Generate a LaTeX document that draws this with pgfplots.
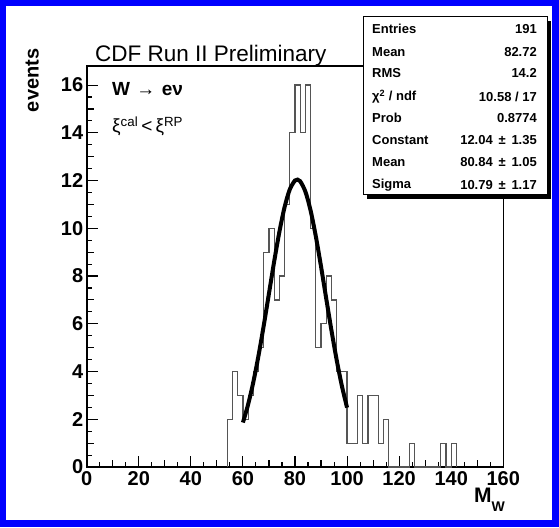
\documentclass[border=0pt]{standalone}
\usepackage{fontspec}
\setmainfont{Liberation Sans}
\usepackage{pgfplots}
\usepackage{pgfplotstable}
\pgfplotsset{compat=1.18}
\definecolor{rootblue}{RGB}{0,0,255}
\definecolor{histgray}{RGB}{85,85,85}

\pgfplotstableread{
x y
54 0
54 2
56 4
58 3
60 2
62 3
64 4
66 5
68 9
70 10
72 7
74 8
76 11
78 14
80 16
82 14
84 16
86 10
88 5
90 6
92 8
94 7
96 4
98 4
100 1
102 1
104 3
106 1
108 3
110 3
112 1
114 2
116 0
124 1
126 0
136 1
138 0
140 1
142 0
}\histdata

\begin{document}
\begin{tikzpicture}[x=1pt,y=1pt]
\fill[rootblue] (0,0) rectangle (559,527);
\fill[white] (6,7) rectangle (552,521);
\begin{axis}[
  at={(86.7pt,60pt)}, anchor=south west,
  scale only axis, width=416.6pt, height=401pt,
  xmin=0, xmax=160, ymin=0, ymax=16.8,
  xtick={0,20,...,160}, ytick={0,2,...,16},
  minor x tick num=3, minor y tick num=3,
  xtick pos=left, ytick pos=left,
  tick align=inside,
  major tick length=11pt, minor tick length=5.5pt,
  extra x ticks={10,30,...,150}, extra x tick labels={},
  extra x tick style={major tick length=7.5pt},
  extra y ticks={1,3,...,15}, extra y tick labels={},
  extra y tick style={major tick length=7.5pt},
  axis line style={line width=1.6pt},
  tick style={line width=1.1pt, black},
  every tick label/.append style={font=\bfseries\fontsize{20}{20}\selectfont},
  xticklabel style={yshift=-1.5pt},
  yticklabel style={xshift=0pt},
  /pgf/number format/assume math mode=true,
  ylabel={\bfseries\fontsize{20}{20}\selectfont events},
  ylabel style={at={(axis description cs:-0.131,1.052)}, anchor=east},
  xlabel={\bfseries\fontsize{21}{21}\selectfont M\raisebox{-0.4em}{\fontsize{14}{14}\selectfont W}},
  xlabel style={at={(axis description cs:1.004,-0.053)}, anchor=north east, inner sep=0pt},
]
\addplot[const plot mark left, draw=histgray, line width=1.2pt, mark=none] table[x=x,y=y] {\histdata};
\addplot[black, line width=4pt, smooth, mark=none] coordinates {
(60,1.864) (62,2.622) (64,3.562) (66,4.676) (68,5.931) (70,7.269)
(72,8.608) (74,9.849) (76,10.888) (78,11.630) (80,12.004) (81,12.039)
(82,11.971) (84,11.535) (86,10.739) (88,9.661) (90,8.397) (92,7.052)
(94,5.723) (96,4.487) (98,3.399) (100,2.488)};
\end{axis}
% title
\node[anchor=base west, inner sep=0pt] at (95,465) {\fontsize{22.5}{22.5}\selectfont CDF Run II Preliminary};
% inset text
\node[anchor=base west, inner sep=0pt] at (112,431) {\bfseries\fontsize{19}{19}\selectfont W\,\,→\,\,eν};
\node[anchor=base west, inner sep=0pt] at (112,394) {\fontsize{19}{19}\selectfont ξ\textsuperscript{cal}\,<\,ξ\textsuperscript{RP}};
% stats box
\fill[black] (367,328) rectangle (551,506);
\filldraw[fill=white, draw=black, line width=1pt] (363,332) rectangle (547,510);
\begin{scope}[every node/.style={inner sep=0pt, font=\bfseries\fontsize{13}{13}\selectfont}]
\node[anchor=west] at (372,497.7) {Entries};
\node[anchor=east] at (537,497.7) {191};
\node[anchor=west] at (372,475.3) {Mean};
\node[anchor=east] at (537,475.3) {82.72};
\node[anchor=west] at (372,453.7) {RMS};
\node[anchor=east] at (537,453.7) {14.2};
\node[anchor=west] at (372,430.3) {χ\textsuperscript{2} / ndf};
\node[anchor=east] at (537,430.3) {10.58 / 17};
\node[anchor=west] at (372,408.7) {Prob};
\node[anchor=east] at (537,408.7) {0.8774};
\node[anchor=west] at (372,387) {Constant};
\node[anchor=east] at (537,387) {12.04 \,±\, 1.35};
\node[anchor=west] at (372,364.7) {Mean};
\node[anchor=east] at (537,364.7) {80.84 \,±\, 1.05};
\node[anchor=west] at (372,342) {Sigma};
\node[anchor=east] at (537,342) {10.79 \,±\, 1.17};
\end{scope}
\end{tikzpicture}
\end{document}
